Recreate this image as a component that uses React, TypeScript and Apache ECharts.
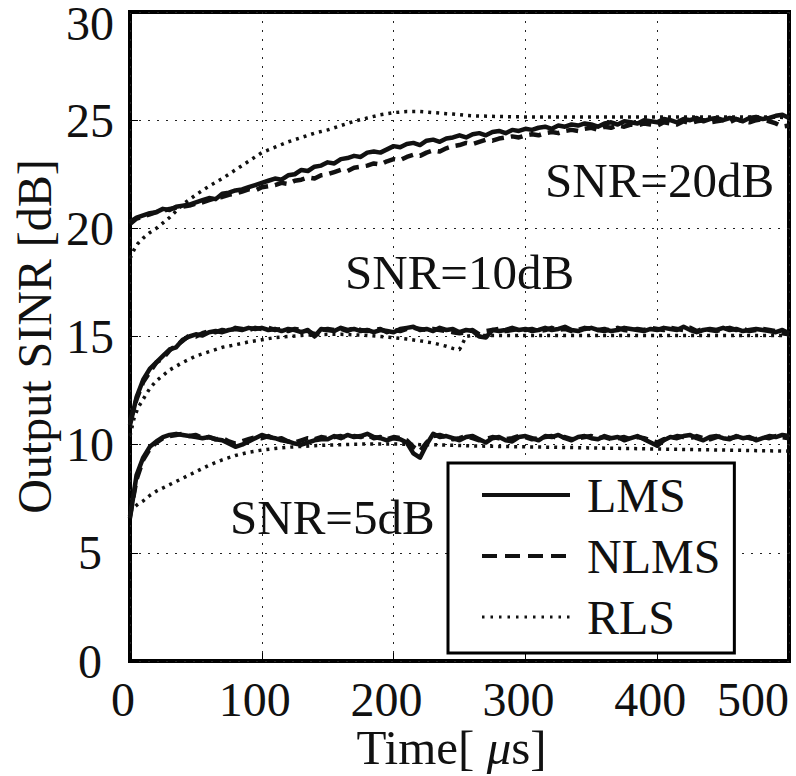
import React, { useEffect, useRef } from "react";
import * as echarts from "echarts";

const FONT = '"Liberation Serif", "Times New Roman", serif';
const INK = "#111111";

// time axis (µs) for LMS / NLMS curves, every 5 µs
const TIME: number[] = [
  0, 5, 10, 15, 20, 25, 30, 35, 40, 45,
  50, 55, 60, 65, 70, 75, 80, 85, 90, 95,
  100, 105, 110, 115, 120, 125, 130, 135, 140, 145,
  150, 155, 160, 165, 170, 175, 180, 185, 190, 195,
  200, 205, 210, 215, 220, 225, 230, 235, 240, 245,
  250, 255, 260, 265, 270, 275, 280, 285, 290, 295,
  300, 305, 310, 315, 320, 325, 330, 335, 340, 345,
  350, 355, 360, 365, 370, 375, 380, 385, 390, 395,
  400, 405, 410, 415, 420, 425, 430, 435, 440, 445,
  450, 455, 460, 465, 470, 475, 480, 485, 490, 495,
  500,
];

// time axis (µs) for the smooth RLS curves
const RLS_TIME: number[] = [
  0, 3, 6, 10, 15, 20, 30, 40, 50, 60, 70, 80, 90, 100,
  110, 120, 130, 140, 150, 160, 170, 180, 190, 200, 210, 220, 230, 240,
  245, 250, 255, 260, 280, 300, 320, 340, 360, 380, 400, 420, 440, 460, 480, 500,
];

// SNR = 20 dB
const LMS_20: number[] = [
  20.3, 20.5, 20.6, 20.7, 20.75, 20.9, 20.85, 21.0, 21.05, 21.1,
  21.2, 21.3, 21.4, 21.35, 21.6, 21.65, 21.75, 21.8, 21.9, 22.0,
  22.1, 22.2, 22.3, 22.25, 22.45, 22.5, 22.7, 22.65, 22.85, 22.9,
  23.05, 23.0, 23.2, 23.25, 23.35, 23.3, 23.5, 23.55, 23.5, 23.65,
  23.8, 23.75, 23.9, 23.95, 23.85, 24.05, 24.1, 24.0, 24.15, 24.2,
  24.3, 24.2, 24.35, 24.4, 24.3, 24.45, 24.5, 24.4, 24.55, 24.5,
  24.6, 24.55, 24.65, 24.7, 24.6, 24.75, 24.7, 24.8, 24.75, 24.85,
  24.8, 24.7, 24.85, 24.9, 24.8, 24.95, 24.9, 24.85, 25.0, 24.95,
  24.9, 25.05, 25.0, 24.9, 25.05, 25.0, 25.1, 24.95, 25.05, 25.1,
  25.0, 25.1, 25.05, 24.95, 25.1, 25.15, 25.05, 25.1, 25.2, 25.25,
  25.1,
];
const NLMS_20: number[] = [
  20.2, 20.45, 20.55, 20.65, 20.75, 20.8, 20.9, 20.95, 21.0, 21.05,
  21.15, 21.2, 21.3, 21.4, 21.45, 21.55, 21.6, 21.7, 21.8, 21.75,
  21.9, 21.95, 22.0, 22.1, 22.05, 22.2, 22.25, 22.35, 22.3, 22.45,
  22.5, 22.6, 22.7, 22.65, 22.8, 22.85, 22.9, 23.0, 22.95, 23.1,
  23.2, 23.15, 23.3, 23.4, 23.35, 23.5, 23.6, 23.55, 23.7, 23.8,
  23.85, 23.95, 23.9, 24.0, 24.1, 24.05, 24.15, 24.2, 24.25, 24.2,
  24.3, 24.35, 24.3, 24.4, 24.45, 24.4, 24.5, 24.55, 24.5, 24.6,
  24.65, 24.55, 24.7, 24.65, 24.75, 24.7, 24.8, 24.75, 24.85, 24.8,
  24.75, 24.9, 24.85, 24.8, 24.95, 24.85, 24.95, 25.0, 24.9, 24.95,
  25.0, 24.9, 25.05, 24.95, 24.9, 25.0, 25.05, 24.95, 24.85, 24.7,
  24.75,
];
const RLS_20: number[] = [
  18.6, 19.0, 19.3, 19.55, 19.8, 20.0, 20.5, 21.1, 21.55, 21.95, 22.3, 22.7, 23.1, 23.5,
  23.75, 24.0, 24.2, 24.4, 24.55, 24.75, 24.95, 25.1, 25.25, 25.35, 25.4, 25.4, 25.35, 25.3,
  25.28, 25.25, 25.22, 25.2, 25.17, 25.15, 25.15, 25.15, 25.15, 25.15, 25.15, 25.15, 25.15, 25.15, 25.15, 25.12,
];

// SNR = 10 dB
const LMS_10: number[] = [
  10.9, 12.2, 13.0, 13.5, 13.8, 14.1, 14.4, 14.5, 14.85, 15.0,
  15.1, 15.05, 15.2, 15.25, 15.2, 15.3, 15.35, 15.3, 15.4, 15.35,
  15.4, 15.3, 15.35, 15.25, 15.35, 15.3, 15.2, 15.3, 15.0, 15.35,
  15.3, 15.25, 15.4, 15.3, 15.35, 15.25, 15.3, 15.2, 15.3, 15.25,
  15.2, 15.35, 15.4, 15.45, 15.3, 15.35, 15.25, 15.4, 15.3, 15.35,
  15.2, 15.3, 15.25, 15.0, 14.95, 15.3, 15.25, 15.3, 15.4, 15.3,
  15.35, 15.25, 15.3, 15.4, 15.3, 15.35, 15.45, 15.3, 15.25, 15.35,
  15.4, 15.3, 15.35, 15.25, 15.3, 15.4, 15.35, 15.3, 15.25, 15.35,
  15.3, 15.4, 15.35, 15.3, 15.45, 15.3, 15.2, 15.3, 15.35, 15.3,
  15.4, 15.3, 15.35, 15.25, 15.3, 15.35, 15.3, 15.25, 15.2, 15.3,
  15.15,
];
const NLMS_10: number[] = [
  11.1, 12.1, 12.9, 13.35, 13.8, 14.0, 14.35, 14.6, 14.8, 15.05,
  15.0, 15.15, 15.25, 15.2, 15.3, 15.25, 15.4, 15.35, 15.3, 15.4,
  15.35, 15.4, 15.3, 15.35, 15.25, 15.35, 15.3, 15.25, 15.1, 15.3,
  15.35, 15.3, 15.35, 15.25, 15.4, 15.3, 15.25, 15.3, 15.35, 15.2,
  15.3, 15.25, 15.35, 15.4, 15.35, 15.3, 15.35, 15.3, 15.25, 15.2,
  15.15, 15.2, 15.3, 15.1, 15.25, 15.3, 15.35, 15.25, 15.3, 15.35,
  15.3, 15.35, 15.25, 15.3, 15.4, 15.3, 15.35, 15.25, 15.3, 15.4,
  15.35, 15.3, 15.25, 15.35, 15.4, 15.3, 15.25, 15.35, 15.3, 15.4,
  15.35, 15.3, 15.4, 15.35, 15.3, 15.4, 15.25, 15.35, 15.3, 15.25,
  15.35, 15.4, 15.3, 15.35, 15.25, 15.3, 15.35, 15.3, 15.25, 15.15,
  15.1,
];
const RLS_10: number[] = [
  10.4, 11.2, 11.7, 12.1, 12.6, 12.95, 13.45, 13.8, 14.1, 14.3, 14.5, 14.62, 14.75, 14.85,
  14.95, 15.0, 15.05, 15.08, 15.1, 15.1, 15.08, 15.05, 15.0, 14.95, 14.88, 14.8, 14.7, 14.55,
  14.45, 14.4, 15.0, 15.05, 15.05, 15.05, 15.05, 15.05, 15.05, 15.05, 15.05, 15.05, 15.05, 15.05, 15.05, 15.05,
];

// SNR = 5 dB
const LMS_5: number[] = [
  6.6, 8.6, 9.4, 9.9, 10.15, 10.35, 10.45, 10.5, 10.45, 10.4,
  10.35, 10.3, 10.35, 10.25, 10.2, 10.05, 9.9, 10.0, 10.15, 10.3,
  10.45, 10.35, 10.3, 10.2, 10.15, 10.05, 10.0, 10.1, 10.2, 10.25,
  10.25, 10.4, 10.3, 10.45, 10.35, 10.4, 10.5, 10.35, 10.3, 10.2,
  10.3, 10.25, 10.1, 9.6, 9.4, 10.0, 10.5, 10.35, 10.4, 10.3,
  10.2, 10.35, 10.4, 10.25, 10.1, 10.3, 10.35, 10.2, 10.15, 10.35,
  10.4, 10.3, 10.2, 10.4, 10.35, 10.45, 10.3, 10.2, 10.35, 10.4,
  10.3, 10.25, 10.4, 10.3, 10.35, 10.2, 10.3, 10.4, 10.25, 10.1,
  9.95, 10.2, 10.35, 10.3, 10.4, 10.45, 10.3, 10.2, 10.35, 10.4,
  10.3, 10.25, 10.4, 10.3, 10.35, 10.2, 10.3, 10.4, 10.35, 10.45,
  10.4,
];
const NLMS_5: number[] = [
  6.7, 8.4, 9.3, 9.8, 10.1, 10.3, 10.4, 10.45, 10.5, 10.4,
  10.45, 10.3, 10.35, 10.25, 10.3, 10.15, 10.05, 10.15, 10.25, 10.35,
  10.3, 10.4, 10.25, 10.3, 10.15, 10.1, 10.2, 10.3, 10.25, 10.35,
  10.3, 10.35, 10.4, 10.3, 10.4, 10.35, 10.45, 10.3, 10.35, 10.25,
  10.35, 10.3, 10.2, 9.9, 9.7, 10.1, 10.4, 10.45, 10.35, 10.25,
  10.3, 10.4, 10.3, 10.2, 10.25, 10.35, 10.3, 10.25, 10.3, 10.4,
  10.35, 10.25, 10.3, 10.35, 10.4, 10.3, 10.35, 10.25, 10.3, 10.35,
  10.4, 10.3, 10.35, 10.25, 10.3, 10.35, 10.25, 10.35, 10.3, 10.2,
  10.1, 10.25, 10.3, 10.4, 10.35, 10.3, 10.4, 10.3, 10.25, 10.35,
  10.4, 10.3, 10.35, 10.4, 10.3, 10.25, 10.35, 10.3, 10.4, 10.35,
  10.3,
];
const RLS_5: number[] = [
  6.9, 7.1, 7.25, 7.4, 7.65, 7.85, 8.15, 8.45, 8.75, 9.05, 9.3, 9.5, 9.65, 9.75,
  9.82, 9.88, 9.92, 9.95, 9.98, 10.0, 10.02, 10.03, 10.03, 10.03, 10.02, 10.0, 10.0, 9.98,
  9.97, 9.96, 9.95, 9.94, 9.92, 9.9, 9.88, 9.86, 9.84, 9.82, 9.8, 9.78, 9.76, 9.74, 9.72, 9.7,
];

const X_TICKS = { min: 0, max: 500, interval: 100 };
const Y_TICKS = { min: 0, max: 30, interval: 5 };

const LEGEND_NAMES = ["LMS", "NLMS", "RLS"];

const ANNOTATIONS = [
  { text: "SNR=20dB", x: 545, y: 180 },
  { text: "SNR=10dB", x: 345, y: 272 },
  { text: "SNR=5dB", x: 230, y: 517 },
];

const pairs = (xs: number[], ys: number[]) => xs.map((x, i) => [x, ys[i]]);

const STYLE: Record<string, any> = {
  LMS: { color: INK, width: 4.5, type: "solid" },
  NLMS: { color: INK, width: 4.5, type: [12, 7] },
  RLS: { color: INK, width: 3.5, type: [3, 5] },
};

const LEGEND_STYLE: Record<string, any> = {
  LMS: { color: INK, width: 4, type: "solid" },
  NLMS: { color: INK, width: 4, type: [15, 8] },
  RLS: { color: INK, width: 3, type: [2.5, 6] },
};

function makeSeries(name: string, xs: number[], ys: number[], z: number) {
  return {
    type: "line",
    name,
    data: pairs(xs, ys),
    symbol: "none",
    showSymbol: false,
    silent: true,
    z,
    lineStyle: { ...STYLE[name], cap: "butt", join: "round" },
    itemStyle: { color: INK },
  };
}

export default function App() {
  const ref = useRef<HTMLDivElement>(null);

  useEffect(() => {
    if (!ref.current) return;
    const chart = echarts.init(ref.current, null, { renderer: "svg" });

    const labelText = { fontFamily: FONT, fontSize: 48, color: INK };

    chart.setOption({
      animation: false,
      backgroundColor: "#ffffff",
      grid: {
        left: 130,
        right: 7,
        top: 12,
        bottom: 115,
        show: true,
        borderColor: "#000",
        borderWidth: 4,
        backgroundColor: "transparent",
        containLabel: false,
        outerBoundsMode: "none",
      },
      xAxis: {
        type: "value",
        ...X_TICKS,
        axisLine: { show: false },
        axisTick: { show: true, inside: true, length: 8, lineStyle: { color: "#000", width: 1 } },
        splitLine: { show: true, lineStyle: { color: "#222", width: 1, type: [2, 7] } },
        axisLabel: {
          ...labelText,
          margin: 14,
          alignMaxLabel: "right",
          formatter: (v: number) => (v === X_TICKS.max ? `{e|${v}}` : `{n|${v}}`),
          rich: {
            n: { ...labelText, padding: [0, 14, 0, 0] },
            e: { ...labelText },
          },
        },
        name: "Time[ {mu|μ}s]",
        nameLocation: "middle",
        nameMoveOverlap: false,
        nameGap: 64,
        nameTextStyle: {
          ...labelText,
          fontSize: 49,
          lineHeight: 44,
          padding: [0, 16, 0, 0],
          rich: {
            mu: { fontFamily: FONT, fontSize: 49, lineHeight: 44, fontStyle: "italic", color: INK },
          },
        },
      },
      yAxis: {
        type: "value",
        ...Y_TICKS,
        axisLine: { show: false },
        axisTick: { show: true, inside: true, length: 8, lineStyle: { color: "#000", width: 1 } },
        splitLine: { show: true, lineStyle: { color: "#222", width: 1, type: [2, 7] } },
        axisLabel: {
          ...labelText,
          align: "center",
          margin: 40,
          formatter: (v: number) => (v === Y_TICKS.max ? `{t|${v}}` : `${v}`),
          rich: { t: { ...labelText, padding: [22, 0, 0, 0] } },
        },
        name: "Output SINR [dB]",
        nameLocation: "middle",
        nameRotate: 90,
        nameMoveOverlap: false,
        nameGap: 72,
        nameTextStyle: { ...labelText },
      },
      legend: {
        data: LEGEND_NAMES.map((n) => ({
          name: n,
          lineStyle: LEGEND_STYLE[n],
          itemStyle: { color: "transparent", borderColor: "transparent", borderWidth: 0, opacity: 0 },
        })),
        orient: "vertical",
        left: 448,
        top: 463,
        itemWidth: 88,
        itemHeight: 14,
        itemGap: 13,
        padding: [8, 14, 12, 32],
        backgroundColor: "#ffffff",
        borderColor: "#000",
        borderWidth: 3,
        borderRadius: 0,
        selectedMode: false,
        itemStyle: { color: "transparent", borderColor: "transparent", borderWidth: 0, opacity: 0 },
        textStyle: { ...labelText, lineHeight: 48, padding: [0, 0, 0, 12] },
      },
      series: [
        makeSeries("RLS", RLS_TIME, RLS_20, 2),
        makeSeries("RLS", RLS_TIME, RLS_10, 2),
        makeSeries("RLS", RLS_TIME, RLS_5, 2),
        makeSeries("NLMS", TIME, NLMS_20, 3),
        makeSeries("NLMS", TIME, NLMS_10, 3),
        makeSeries("NLMS", TIME, NLMS_5, 3),
        makeSeries("LMS", TIME, LMS_20, 3),
        makeSeries("LMS", TIME, LMS_10, 3),
        makeSeries("LMS", TIME, LMS_5, 3),
      ],
      graphic: ANNOTATIONS.map((a) => ({
        type: "text",
        x: a.x,
        y: a.y,
        z: 5,
        silent: true,
        style: {
          text: a.text,
          fill: INK,
          font: `49px ${FONT}`,
          align: "left",
          verticalAlign: "middle",
        },
      })),
    });

    return () => chart.dispose();
  }, []);

  return (
    <div
      ref={ref}
      style={{ position: "absolute", left: 0, top: 0, width: 796, height: 776, background: "#fff" }}
    />
  );
}
